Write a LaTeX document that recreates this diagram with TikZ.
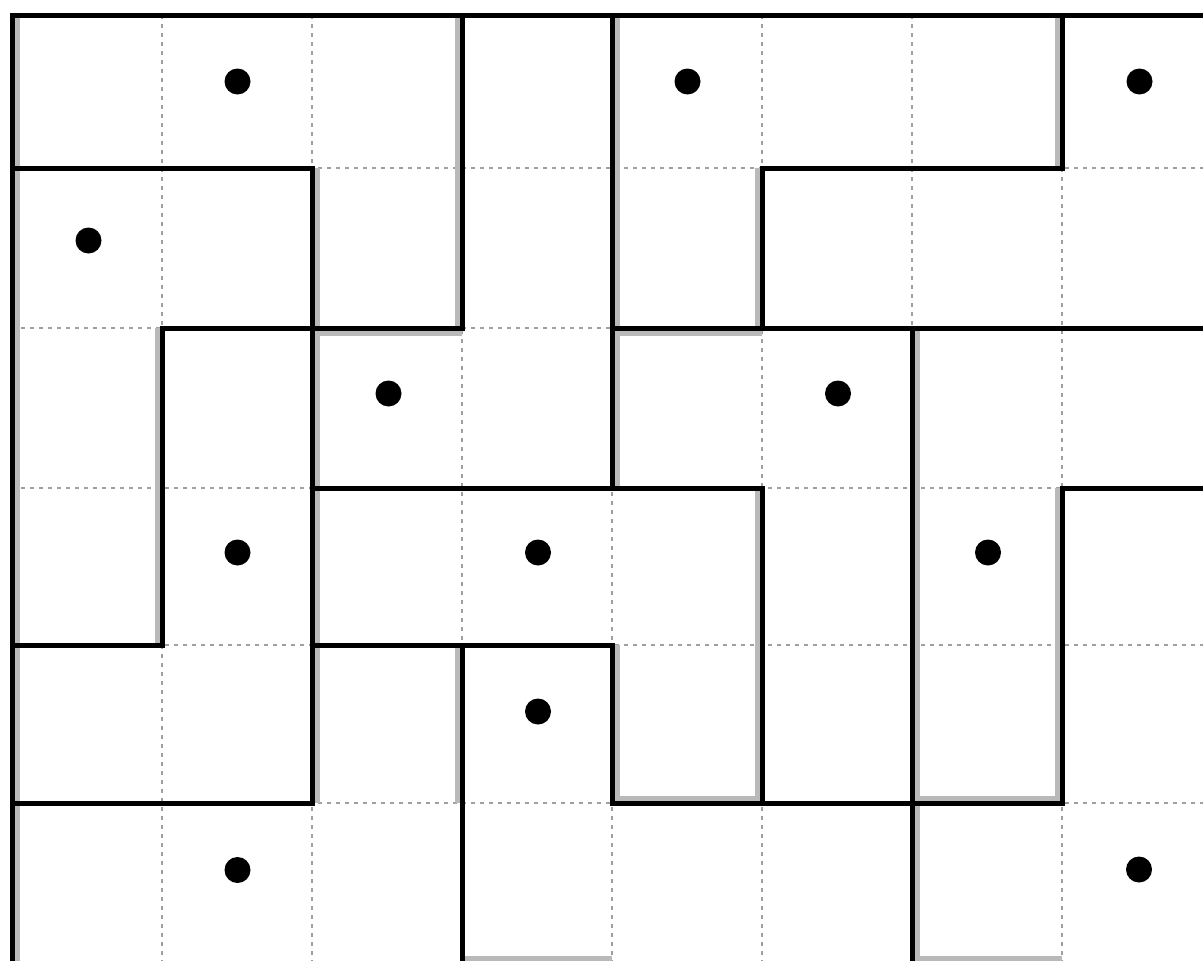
\documentclass[tikz,border=0pt]{standalone}
\begin{document}
\begin{tikzpicture}[x=1pt,y=-1pt,
  gridline/.style={draw=gray!75, line width=2.2pt, dash pattern=on 4pt off 5pt},
  wall/.style={draw=black, line width=5pt, line cap=rect},
  shade/.style={draw=gray!55, line width=5pt},
  dot/.style={circle, fill=black, inner sep=0pt, minimum size=26pt}]
\useasboundingbox (0,0) rectangle (1203,961);
\fill[white] (0,0) rectangle (1203,961);
% grid coordinates
\foreach \c in {0,...,8}{
  \foreach \r/\yy in {0/15,1/168,2/328,3/488,4/645,5/803,6/962}{
    \coordinate (p\c-\r) at ({12+150*\c},\yy);
  }
}
% dashed inner grid
\foreach \c in {1,...,7} \draw[gridline] (p\c-0) -- (p\c-6);
\foreach \r in {1,...,5} \draw[gridline] (p0-\r) -- (p8-\r);
% gray shadows of vertical walls
\foreach \c/\r in {0/0,0/1,0/2,0/3,0/4,0/5,1/2,1/3,2/1,2/2,2/3,2/4,3/0,3/1,3/4,
                   4/0,4/1,4/2,4/4,5/1,5/3,5/4,6/2,6/3,6/4,6/5,7/0,7/3,7/4}{
  \pgfmathtruncatemacro\rr{\r+1}
  \pgfmathsetmacro\off{ifthenelse(mod(\c,2)==0,5,-5)}
  \draw[shade] ([xshift=\off pt]p\c-\r) -- ([xshift=\off pt]p\c-\rr);
}
% gray shadows of some horizontal walls
\foreach \c in {2,4}{
  \pgfmathtruncatemacro\cc{\c+1}
  \draw[shade] ([yshift=-5pt]p\c-2) -- ([yshift=-5pt]p\cc-2);
}
\foreach \c in {4,6}{
  \pgfmathtruncatemacro\cc{\c+1}
  \draw[shade] ([yshift=5pt]p\c-5) -- ([yshift=5pt]p\cc-5);
}
\foreach \c in {3,6}{
  \pgfmathtruncatemacro\cc{\c+1}
  \draw[shade] ([yshift=4pt]p\c-6) -- ([yshift=4pt]p\cc-6);
}
% vertical walls
\foreach \c/\r in {0/0,0/1,0/2,0/3,0/4,0/5,1/2,1/3,2/1,2/2,2/3,2/4,3/0,3/1,3/4,3/5,
                   4/0,4/1,4/2,4/4,5/1,5/3,5/4,6/2,6/3,6/4,6/5,7/0,7/3,7/4}{
  \pgfmathtruncatemacro\rr{\r+1}
  \draw[wall] (p\c-\r) -- (p\c-\rr);
}
% horizontal walls
\foreach \r/\c in {0/0,0/1,0/2,0/3,0/4,0/5,0/6,0/7,
                   1/0,1/1,1/5,1/6,
                   2/1,2/2,2/4,2/5,2/6,2/7,
                   3/2,3/3,3/4,3/7,
                   4/0,4/2,4/3,
                   5/0,5/1,5/4,5/5,5/6}{
  \pgfmathtruncatemacro\cc{\c+1}
  \draw[wall] (p\c-\r) -- (p\cc-\r);
}
% dots
\node[dot] (d1) at (237.5,81.5) {};
\node[dot] (d2) at (687.5,81.5) {};
\node[dot] (d3) at (1139.5,81.5) {};
\node[dot] (d4) at (88.5,240.5) {};
\node[dot] (d5) at (388.5,393.5) {};
\node[dot] (d6) at (838,393.5) {};
\node[dot] (d7) at (237.5,552.5) {};
\node[dot] (d8) at (538,552.5) {};
\node[dot] (d9) at (988,552.5) {};
\node[dot] (d10) at (538,711.5) {};
\node[dot] (d11) at (237.5,870) {};
\node[dot] (d12) at (1139,869.5) {};
\end{tikzpicture}
\end{document}
